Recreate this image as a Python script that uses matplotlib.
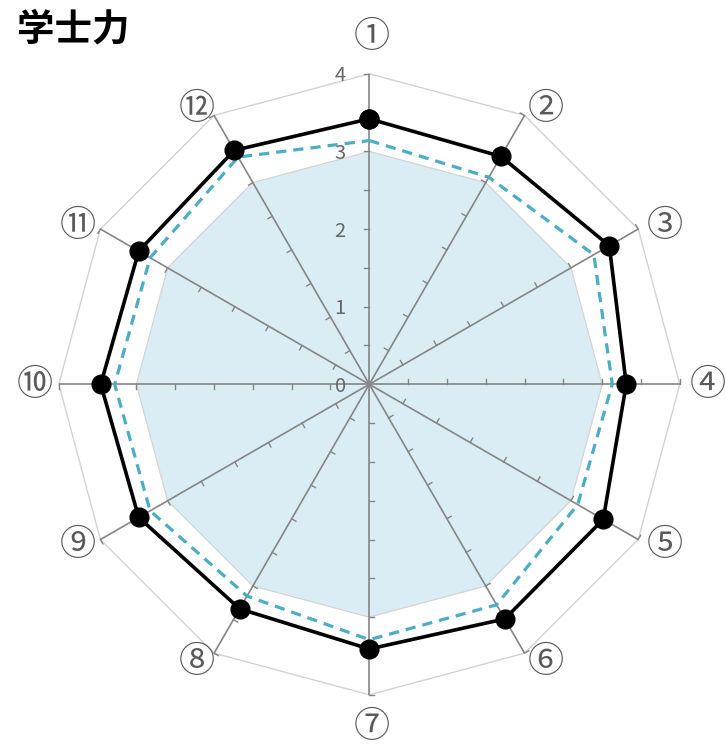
import numpy as np
import matplotlib
matplotlib.use("Agg")
import matplotlib.pyplot as plt

plt.rcParams['font.family'] = ['Noto Sans CJK JP', 'DejaVu Sans']

title = "学士力"
categories = ["①", "②", "③", "④", "⑤", "⑥", "⑦", "⑧", "⑨", "⑩", "⑪", "⑫"]
series_main = [3.42, 3.39, 3.57, 3.31, 3.48, 3.49, 3.41, 3.34, 3.43, 3.46, 3.43, 3.48]
series_dash = [3.14, 3.08, 3.34, 3.13, 3.10, 3.28, 3.29, 3.15, 3.26, 3.28, 3.26, 3.38]
series_fill = [3.0, 3.0, 3.0, 3.0, 3.0, 3.0, 3.0, 3.0, 3.0, 3.0, 3.0, 3.0]
tick_values = [0, 1, 2, 3, 4]
minor_step = 0.5
r_max = 4

W, H = 726, 748
DPI = 100
fig = plt.figure(figsize=(W / DPI, H / DPI), dpi=DPI)
cx, cy, R = 369.3, 384.3, 310.5
ax = fig.add_axes([(cx - R) / W, (H - cy - R) / H, 2 * R / W, 2 * R / H], projection='polar')
ax.set_theta_zero_location('N')
ax.set_theta_direction(-1)
ax.set_ylim(0, r_max)
ax.grid(False)
ax.spines['polar'].set_visible(False)
ax.set_xticks([])
ax.set_yticks([])
ax.patch.set_alpha(0)

n = len(categories)
theta = np.arange(n) * 2 * np.pi / n
theta_c = np.append(theta, theta[0])

def closed(v):
    return np.append(v, v[0])

# fill series
ax.fill(theta_c, closed(series_fill), facecolor='#dbedf4', edgecolor='#d4d4d4', lw=0.9, zorder=1)

# outer polygon
ax.plot(theta_c, [r_max] * (n + 1), color='#d2d2d2', lw=1.0, zorder=2, clip_on=False)

# spokes and ticks
px_per_unit = R / r_max
tick_len = 5.0 / px_per_unit
for a in theta:
    ax.plot([a, a], [0, r_max], color='#858585', lw=1.2, zorder=3, solid_capstyle='butt', clip_on=False)
    for v in np.arange(minor_step, r_max + 1e-9, minor_step):
        r2 = np.hypot(v, tick_len)
        a2 = a - np.arctan2(tick_len, v)
        ax.plot([a, a2], [v, r2], color='#858585', lw=1.0, zorder=3, clip_on=False)

# tick labels
for v in tick_values:
    ax.annotate(str(v), xy=(0, v), xytext=(-17.0, -1.5), textcoords='offset points',
                ha='right', va='center', fontsize=14.5, color='#666666', zorder=4,
                annotation_clip=False)

# series lines
ax.plot(theta_c, closed(series_dash), color='#4bacc6', lw=2.3, ls=(0, (3.2, 2.2)), zorder=5, clip_on=False)
ax.plot(theta_c, closed(series_main), color='black', lw=2.6, marker='o', markersize=13.5, zorder=6, clip_on=False)

# category labels
for a, lab in zip(theta, categories):
    s, c = np.sin(a), np.cos(a)
    if abs(s) < 0.01:
        dx, dy = 2.5, -34.25 * c - 2.25
    elif s > 0:
        dx, dy = 15 + 13.5 * abs(s), -9 * c + 1
    else:
        dx, dy = -(11 + 13 * abs(s)), -9 * c + 1
    ax.annotate(lab, xy=(a, r_max), xytext=(dx * 0.72, -dy * 0.72), textcoords='offset points',
                ha='center', va='center', fontsize=26, color='#5a5a5a',
                annotation_clip=False)

fig.text(17 / W, 1 - 9 / H, title, ha='left', va='top', fontsize=27, fontweight='bold', color='black')

fig.savefig('out.png', dpi=DPI)
